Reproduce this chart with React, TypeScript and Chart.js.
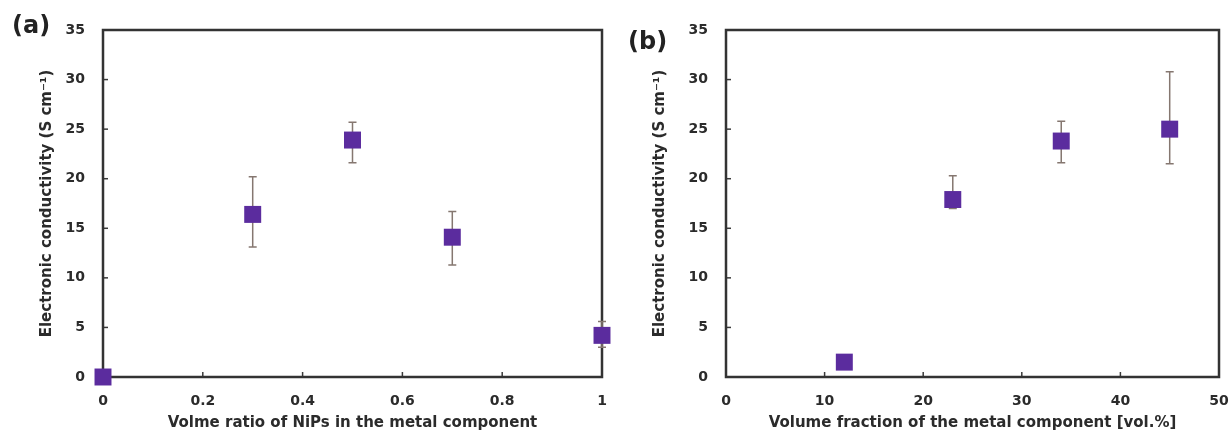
import React, { useEffect, useRef } from "react";
import { Chart, registerables } from "chart.js";

Chart.register(...registerables);

// ---- Data (a) ----
const ratioX = [0, 0.3, 0.5, 0.7, 1];
const ratioY = [0, 16.4, 23.9, 14.1, 4.2];
const ratioLow = [0, 13.1, 21.6, 11.3, 3.0];
const ratioHigh = [0, 20.2, 25.7, 16.7, 5.6];
const ratioTicks = ["0", "0.2", "0.4", "0.6", "0.8", "1"];

// ---- Data (b) ----
const fracX = [12, 23, 34, 45];
const fracY = [1.5, 17.9, 23.8, 25.0];
const fracLow = [1.2, 17.0, 21.6, 21.5];
const fracHigh = [1.8, 20.3, 25.8, 30.8];
const fracTicks = ["0", "10", "20", "30", "40", "50"];

const yTicks = ["0", "5", "10", "15", "20", "25", "30", "35"];

const MARKER = "#5b2c9e";
const TEXT = "#2b2b2b";
const FONT = "'DejaVu Sans', sans-serif";

const framePlugin = (low: number[], high: number[], xs: number[]) => ({
  id: "frameErr",
  beforeDatasetsDraw(chart: any) {
    const { ctx, chartArea: a, scales } = chart;
    ctx.save();
    // inward ticks
    ctx.strokeStyle = "#3a3a3a";
    ctx.lineWidth = 1.5;
    scales.x.ticks.forEach((t: any) => {
      const px = scales.x.getPixelForValue(t.value);
      ctx.beginPath();
      ctx.moveTo(px, a.bottom);
      ctx.lineTo(px, a.bottom - 5);
      ctx.stroke();
    });
    scales.y.ticks.forEach((t: any) => {
      const py = scales.y.getPixelForValue(t.value);
      ctx.beginPath();
      ctx.moveTo(a.left, py);
      ctx.lineTo(a.left + 5, py);
      ctx.stroke();
    });
    // frame
    ctx.lineWidth = 2.5;
    ctx.strokeStyle = "#333333";
    ctx.strokeRect(a.left, a.top, a.right - a.left, a.bottom - a.top);
    // error bars
    ctx.strokeStyle = "#857770";
    ctx.lineWidth = 1.5;
    xs.forEach((xv, i) => {
      if (high[i] === low[i]) return;
      const px = scales.x.getPixelForValue(xv);
      const t = scales.y.getPixelForValue(high[i]);
      const b = scales.y.getPixelForValue(low[i]);
      ctx.beginPath();
      ctx.moveTo(px, t);
      ctx.lineTo(px, b);
      ctx.moveTo(px - 4, t);
      ctx.lineTo(px + 4, t);
      ctx.moveTo(px - 4, b);
      ctx.lineTo(px + 4, b);
      ctx.stroke();
    });
    ctx.restore();
  },
});

function makeConfig(opts: {
  xs: number[];
  ys: number[];
  low: number[];
  high: number[];
  xMax: number;
  xStep: number;
  xLabels: string[];
  xTitle: string;
  yWidth: number;
  yTitlePad: number;
  rightPad: number;
}) {
  return {
    type: "scatter" as const,
    data: {
      datasets: [
        {
          data: opts.xs.map((x, i) => ({ x, y: opts.ys[i] })),
          pointStyle: "rect",
          pointRadius: 12,
          pointHoverRadius: 12,
          backgroundColor: MARKER,
          borderColor: MARKER,
          borderWidth: 0,
          clip: false,
        },
      ],
    },
    options: {
      responsive: false,
      animation: false,
      events: [],
      layout: { padding: { left: 0, top: 30, right: opts.rightPad, bottom: 0 } },
      plugins: { legend: { display: false }, tooltip: { enabled: false } },
      scales: {
        x: {
          type: "linear",
          min: 0,
          max: opts.xMax,
          ticks: {
            stepSize: opts.xStep,
            padding: 16,
            color: TEXT,
            font: { family: FONT, size: 14, weight: "bold" },
            callback: (_v: any, i: number) => opts.xLabels[i],
            maxRotation: 0,
          },
          grid: { display: false, drawTicks: false },
          border: { display: false },
          title: {
            display: true,
            text: opts.xTitle,
            color: TEXT,
            font: { family: FONT, size: 15, weight: "bold" },
            padding: { top: 0, bottom: 4 },
          },
          afterFit(s: any) {
            s.height = 59;
            s.paddingLeft = 0;
            s.paddingRight = 0;
          },
        },
        y: {
          type: "linear",
          min: 0,
          max: 35,
          ticks: {
            stepSize: 5,
            padding: 18,
            color: TEXT,
            font: { family: FONT, size: 14, weight: "bold" },
            callback: (_v: any, i: number) => yTicks[i],
          },
          grid: { display: false, drawTicks: false },
          border: { display: false },
          title: {
            display: true,
            text: "Electronic conductivity (S cm⁻¹)",
            color: TEXT,
            font: { family: FONT, size: 15, weight: "bold" },
            padding: { top: opts.yTitlePad, bottom: 0 },
          },
          afterFit(s: any) {
            s.width = opts.yWidth;
            s.paddingTop = 0;
            s.paddingBottom = 0;
          },
        },
      },
    },
    plugins: [framePlugin(opts.low, opts.high, opts.xs)],
  };
}

export default function App() {
  const refA = useRef<HTMLCanvasElement>(null);
  const refB = useRef<HTMLCanvasElement>(null);

  useEffect(() => {
    const a = new Chart(
      refA.current as HTMLCanvasElement,
      makeConfig({
        xs: ratioX,
        ys: ratioY,
        low: ratioLow,
        high: ratioHigh,
        xMax: 1,
        xStep: 0.2,
        xLabels: ratioTicks,
        xTitle: "Volme ratio of NiPs in the metal component",
        yWidth: 103,
        yTitlePad: 38,
        rightPad: 13,
      }) as any
    );
    const b = new Chart(
      refB.current as HTMLCanvasElement,
      makeConfig({
        xs: fracX,
        ys: fracY,
        low: fracLow,
        high: fracHigh,
        xMax: 50,
        xStep: 10,
        xLabels: fracTicks,
        xTitle: "Volume fraction of the metal component [vol.%]",
        yWidth: 111,
        yTitlePad: 36,
        rightPad: 11,
      }) as any
    );
    return () => {
      a.destroy();
      b.destroy();
    };
  }, []);

  const label: React.CSSProperties = {
    position: "absolute",
    fontFamily: FONT,
    fontWeight: "bold",
    fontSize: 24,
    lineHeight: "24px",
    color: "#222",
  };

  return (
    <div
      style={{
        position: "absolute",
        left: 0,
        top: 0,
        width: 1231,
        height: 436,
        background: "#fff",
        overflow: "hidden",
      }}
    >
      <canvas
        ref={refA}
        width={615}
        height={436}
        style={{ position: "absolute", left: 0, top: 0, display: "block" }}
      />
      <canvas
        ref={refB}
        width={616}
        height={436}
        style={{ position: "absolute", left: 615, top: 0, display: "block" }}
      />
      <div style={{ ...label, left: 12, top: 13 }}>(a)</div>
      <div style={{ ...label, left: 628, top: 29 }}>(b)</div>
    </div>
  );
}
